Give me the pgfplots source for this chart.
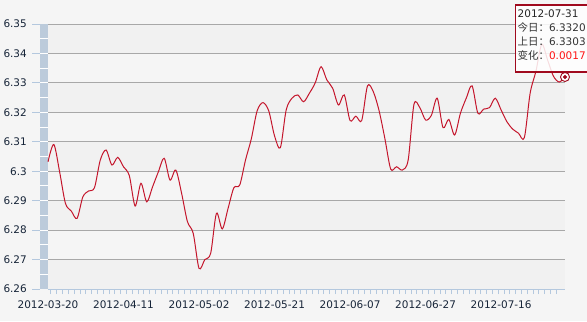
\documentclass[border=0pt]{standalone}
\usepackage{pgfplots}
\pgfplotsset{compat=1.18}
\usepackage{fontspec}
\setmainfont{DejaVu Sans}
\newfontfamily\cjk{Noto Sans CJK SC}
\definecolor{bgc}{RGB}{245,245,245}
\definecolor{bandc}{RGB}{241,241,241}
\definecolor{gridc}{RGB}{168,168,168}
\definecolor{stripc}{RGB}{188,203,219}
\definecolor{tickc}{RGB}{180,200,222}
\definecolor{linec}{RGB}{196,22,44}
\definecolor{labc}{RGB}{22,36,56}
\definecolor{tipred}{RGB}{160,10,30}
\begin{document}
\begin{tikzpicture}[x=1bp,y=1bp]
% background
\fill[bgc] (0,0) rectangle (587,321);
% alternating bands (pixel rows 24..289, every 0.01 = 29.44px)
\foreach \k in {0,2,4,6,8}{
  \fill[bandc] (48,{297-\k*29.444}) rectangle (565,{297-(\k+1)*29.444});
}
% left strip
\fill[stripc] (40,32) rectangle (48,297);
\foreach \k in {1,...,17}{
  \draw[white,line width=0.9bp] (40,{32+\k*14.722}) -- (48,{32+\k*14.722});
}
% y tick marks
\foreach \k in {0,...,9}{
  \draw[tickc,line width=0.9bp] (32,{32+\k*29.444}) -- (40,{32+\k*29.444});
}
\begin{axis}[
  at={(48bp,32bp)}, anchor=south west,
  width=517bp, height=265bp, scale only axis,
  xmin=0, xmax=89, ymin=6.26, ymax=6.35,
  axis x line*=bottom, axis y line*=left,
  x axis line style={draw=tickc,line width=0.9bp,-},
  y axis line style={draw=none},
  ytick={6.26,6.27,6.28,6.29,6.30,6.31,6.32,6.33,6.34,6.35},
  yticklabels={6.26,6.27,6.28,6.29,6.3,6.31,6.32,6.33,6.34,6.35},
  ymajorgrids, grid style={draw=gridc,line width=0.9bp},
  xtick={0,13,26,39,52,65,78},
  xticklabels={2012-03-20,2012-04-11,2012-05-02,2012-05-21,2012-06-07,2012-06-27,2012-07-16},
  minor xtick={0.5,1.5,...,87.5},
  tick align=outside,
  major tick length=0pt,
  minor tick length=5bp,
  minor x tick style={draw=tickc,line width=0.9bp},
  major x tick style={draw=none},
  ytick style={draw=none},
  tick label style={font=\fontsize{10.5}{12}\selectfont, text=labc},
  yticklabel style={anchor=east, inner sep=0pt, xshift=-21bp},
  xticklabel style={anchor=north, inner sep=0pt, yshift=-12bp},
  /pgf/number format/assume math mode=true,
  clip=false,
]
\addplot[linec, line width=1bp, smooth, tension=0.5] coordinates {
(0,6.3032) (1,6.3091) (2,6.2998) (3,6.2891) (4,6.2865) (5,6.2840) (6,6.2913) (7,6.2933) (8,6.2944) (9,6.3038)
(10,6.3072) (11,6.3021) (12,6.3047) (13,6.3015) (14,6.2985) (15,6.2882) (16,6.2959) (17,6.2896) (18,6.2947) (19,6.2998)
(20,6.3044) (21,6.2970) (22,6.3004) (23,6.2925) (24,6.2829) (25,6.2789) (26,6.2670) (27,6.2700) (28,6.2721) (29,6.2857)
(30,6.2804) (31,6.2874) (32,6.2944) (33,6.2953) (34,6.3038) (35,6.3110) (36,6.3205) (37,6.3233) (38,6.3205) (39,6.3120)
(40,6.3080) (41,6.3208) (42,6.3248) (43,6.3259) (44,6.3236) (45,6.3265) (46,6.3300) (47,6.3355) (48,6.3310) (49,6.3282)
(50,6.3225) (51,6.3259) (52,6.3172) (53,6.3187) (54,6.3172) (55,6.3290) (56,6.3270) (57,6.3205) (58,6.3110) (59,6.3007)
(60,6.3015) (61,6.3004) (62,6.3038) (63,6.3227) (64,6.3216) (65,6.3174) (66,6.3190) (67,6.3248) (68,6.3148) (69,6.3176)
(70,6.3123) (71,6.3197) (72,6.3248) (73,6.3290) (74,6.3197) (75,6.3211) (76,6.3216) (77,6.3248) (78,6.3208) (79,6.3168)
(80,6.3143) (81,6.3129) (82,6.3114) (83,6.3265) (84,6.3340) (85,6.3431) (86,6.3378) (87,6.3323) (88,6.3303) (89,6.3320)
};
\addplot[only marks, mark=*, mark size=4.5bp, mark options={draw=tipred, fill=white, line width=0.9bp}] coordinates {(89,6.3320)};
\addplot[only marks, mark=*, mark size=1.8bp, mark options={draw=tipred, fill=tipred}] coordinates {(89,6.3320)};
\end{axis}
% tooltip
\draw[draw=tipred, line width=1.2bp, fill=white, fill opacity=0.85] (515.5,316) rectangle (600,249);
\begin{scope}[font=\fontsize{10.5}{12}\selectfont]
\node[anchor=base west, inner sep=0pt, text=black!85] at (517.5,303.7) {2012-07-31};
\node[anchor=base west, inner sep=0pt, text=black!80] at (517.5,289.3) {{\cjk 今日：}6.3320};
\node[anchor=base west, inner sep=0pt, text=black!80] at (517.5,275.3) {{\cjk 上日：}6.3303};
\node[anchor=base west, inner sep=0pt, text=black!80] at (517.5,261.7) {{\cjk 变化：}\textcolor[RGB]{255,20,20}{0.0017}};
\end{scope}
\pgfresetboundingbox
\path[use as bounding box] (0,0) rectangle (587,321);
\end{tikzpicture}
\end{document}
